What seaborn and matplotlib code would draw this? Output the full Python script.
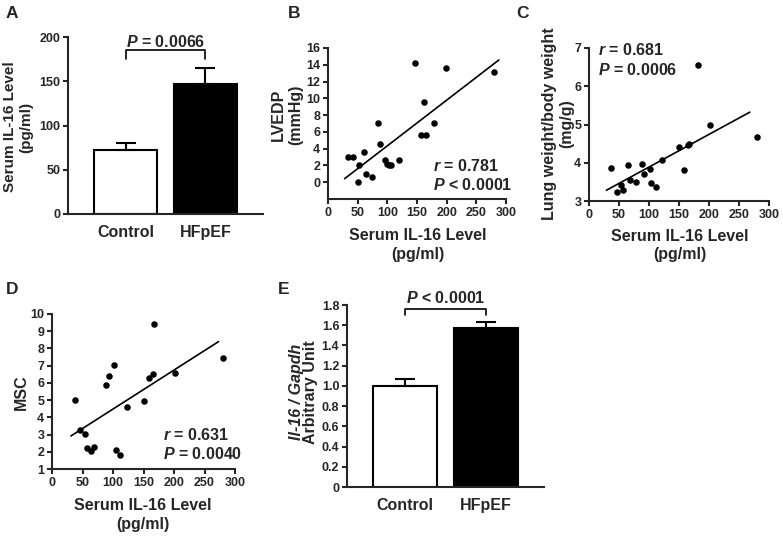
import numpy as np
import pandas as pd
import matplotlib
matplotlib.use("Agg")
import matplotlib.pyplot as plt
import seaborn as sns

# ---- data ----
groups = ["Control", "HFpEF"]
il16_mean = [72.7, 146.5]
il16_sem = [8.0, 18.0]
il16_p = "$P$ = 0.0066"

mrna_mean = [1.00, 1.577]
mrna_sem = [0.07, 0.055]
mrna_p = "$P$ < 0.0001"

b_il16 = [33, 42, 52, 50, 60, 64, 74, 85, 88, 96, 100, 103, 107, 119, 147, 157, 165, 162, 179, 199, 280]
b_lvedp = [3.0, 3.0, 2.1, 0.0, 3.6, 1.0, 0.6, 7.1, 4.6, 2.6, 2.2, 2.1, 2.1, 2.6, 14.2, 5.6, 5.6, 9.6, 7.1, 13.6, 13.1]

c_il16 = [37, 47, 54, 57, 65, 69, 78, 88, 92, 101, 104, 111, 122, 150, 159, 165, 167, 182, 201, 280]
c_lung = [3.87, 3.23, 3.42, 3.30, 3.93, 3.54, 3.50, 3.97, 3.70, 3.83, 3.46, 3.36, 4.06, 4.41, 3.81, 4.47, 4.48, 6.56, 4.98, 4.68]

d_il16 = [37, 46, 54, 57, 64, 69, 89, 93, 101, 105, 111, 123, 151, 159, 166, 167, 202, 281]
d_msc = [5.03, 3.25, 3.05, 2.22, 2.03, 2.30, 5.86, 6.38, 7.04, 2.12, 1.83, 4.62, 4.93, 6.28, 6.50, 9.42, 6.57, 7.45]

b_stats = ["$r$ = 0.781", "$P$ < 0.0001"]
c_stats = ["$r$ = 0.681", "$P$ = 0.0006"]
d_stats = ["$r$ = 0.631", "$P$ = 0.0040"]

# ---- style ----
sns.set_style("ticks")
plt.rcParams["font.family"] = ["Liberation Sans", "DejaVu Sans"]
plt.rcParams["font.weight"] = "bold"
plt.rcParams["mathtext.fontset"] = "custom"
plt.rcParams["mathtext.it"] = "Liberation Sans:italic:bold"
plt.rcParams["mathtext.rm"] = "Liberation Sans:bold"
plt.rcParams["axes.linewidth"] = 1.5

W, H = 783, 536
fig = plt.figure(figsize=(W / 100, H / 100), dpi=100)


def box(l, t, r, b):
    return fig.add_axes([l / W, 1 - b / H, (r - l) / W, (b - t) / H])


def px(x, y):
    return x / W, 1 - y / H


TICK = 9
LAB = 11.5


def style(ax):
    sns.despine(ax=ax)
    ax.tick_params(direction="out", length=3.5, width=1.5, labelsize=TICK, pad=2)
    for lab in ax.get_xticklabels() + ax.get_yticklabels():
        lab.set_fontweight("bold")


def bars(ax, means, sems, ptext, ylim, yticks, yticklabels, bracket):
    df = pd.DataFrame({"group": groups, "value": means})
    sns.barplot(data=df, x="group", y="value", hue="group", palette=["white", "black"],
                edgecolor="black", linewidth=1.5, width=0.79, legend=False, ax=ax)
    ax.errorbar(range(len(groups)), means, yerr=[[0] * len(sems), sems], fmt="none",
                ecolor="black", elinewidth=1.5, capsize=7.2, capthick=1.5, zorder=5)
    lo, hi, ty = bracket
    ax.plot([0, 0, 1, 1], [lo, hi, hi, lo], color="black", lw=1.2, clip_on=False)
    ax.text(0.5, ty, ptext, ha="center", va="center", fontsize=LAB, fontweight="bold")
    ax.set_xlim(-0.72, 1.72)
    ax.set_ylim(*ylim)
    ax.set_yticks(yticks)
    ax.set_yticklabels(yticklabels)
    ax.set_xlabel("")
    ax.set_ylabel("")
    style(ax)
    ax.tick_params(axis="x", length=0, labelsize=LAB, pad=8)
    for lab in ax.get_xticklabels():
        lab.set_fontweight("bold")


def scatter(ax, x, y, xfit, ylim, yticks, stats, spos):
    sns.scatterplot(x=x, y=y, color="black", s=22, edgecolor="black", linewidth=0, ax=ax, zorder=3)
    k, c = np.polyfit(x, y, 1)
    xs = np.array(xfit)
    sns.lineplot(x=xs, y=k * xs + c, color="black", lw=1.2, ax=ax)
    ax.set_xlim(0, 300)
    ax.set_xticks(range(0, 301, 50))
    ax.set_ylim(*ylim)
    ax.set_yticks(yticks)
    for s, (sx, sy) in zip(stats, spos):
        ax.text(sx, sy, s, ha="left", va="center", fontsize=LAB, fontweight="bold")
    style(ax)


# A
axA = box(68, 37, 263, 214)
bars(axA, il16_mean, il16_sem, il16_p, (0, 200), range(0, 201, 50),
     [str(v) for v in range(0, 201, 50)], (175.5, 185.3, 194))

# B
axB = box(328, 48, 506, 199)
scatter(axB, b_il16, b_lvedp, [28, 288], (-2, 16), range(0, 17, 2), b_stats,
        [(177, 1.9), (177, -0.3)])

# C
axC = box(589, 48, 769, 201)
scatter(axC, c_il16, c_lung, [29, 268], (3, 7), range(3, 8), c_stats,
        [(14.5, 6.94), (14.5, 6.42)])

# D
axD = box(52, 314, 235, 469)
scatter(axD, d_il16, d_msc, [31, 273], (1, 10), range(1, 11), d_stats,
        [(182, 2.95), (182, 1.87)])

# E
axE = box(347, 305, 544, 487)
ev = np.round(np.arange(0, 1.81, 0.2), 1)
bars(axE, mrna_mean, mrna_sem, mrna_p, (0, 1.8), ev,
     ["0"] + [f"{v:.1f}" for v in ev[1:]], (1.705, 1.765, 1.87))

# axis labels
fig.text(*px(18, 127), "Serum IL-16 Level\n(pg/ml)", rotation=90, ha="center", va="center",
         fontsize=11, fontweight="bold", linespacing=1.15)
fig.text(*px(287, 115), "LVEDP\n(mmHg)", rotation=90, ha="center", va="center",
         fontsize=LAB, fontweight="bold", linespacing=1.15)
fig.text(*px(558, 124), "Lung weight/body weight\n(mg/g)", rotation=90, ha="center", va="center",
         fontsize=LAB, fontweight="bold", linespacing=1.15)
fig.text(*px(21, 392), "MSC", rotation=90, ha="center", va="center",
         fontsize=LAB, fontweight="bold")
fig.text(*px(297, 392), "Il-16 / Gapdh", rotation=90, ha="center", va="center",
         fontsize=LAB, fontweight="bold", style="italic")
fig.text(*px(311, 392), "Arbitrary Unit", rotation=90, ha="center", va="center",
         fontsize=LAB, fontweight="bold")
for cx, cy in [(418, 245), (680, 246), (143, 515)]:
    fig.text(*px(cx, cy), "Serum IL-16 Level\n(pg/ml)", ha="center", va="center",
             fontsize=LAB, fontweight="bold", linespacing=1.25)

# panel letters
for letter, (lx, ly) in zip("ABCDE", [(6, 14), (288, 14), (516, 14), (6, 289), (278, 289)]):
    fig.text(*px(lx, ly), letter, ha="left", va="center", fontsize=12.5, fontweight="bold")

fig.savefig("out.png", dpi=100)
